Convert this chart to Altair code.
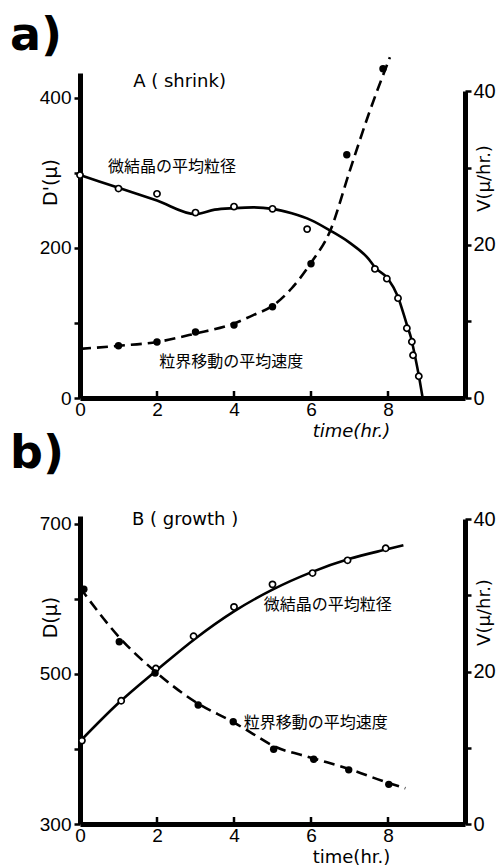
import altair as alt
import pandas as pd

# ---------------- data ----------------
# Panel a) A (shrink): mean crystallite size D' (open circles, solid fit)
a_D_t = [0, 1, 2, 3, 4, 5, 5.9, 7.66, 7.97, 8.26, 8.49, 8.62, 8.65, 8.8]
a_D_v = [297, 279, 272, 247, 255, 252, 225, 172, 159, 133, 93, 75, 57, 29]
a_Dfit_t = [0, 1, 2, 3, 3.5, 4, 4.5, 5, 5.5, 6, 6.5, 7, 7.5, 7.66, 8, 8.25, 8.5, 8.6, 8.7, 8.8, 8.9]
a_Dfit_v = [297, 280, 263, 245, 251, 253, 254, 252, 246, 237, 223, 207, 185, 174, 159, 136, 96, 80, 56, 30, 0]
# mean boundary-migration velocity V (filled dots, dashed fit)
a_V_t = [1, 2, 3, 4, 5, 6, 6.93, 7.87]
a_V_v = [6.8, 7.3, 8.6, 9.5, 11.9, 17.5, 31.7, 42.9]
a_Vfit_t = [0, 1, 2, 3, 4, 4.5, 5, 5.5, 6, 6.5, 7, 7.5, 8.05]
a_Vfit_v = [6.4, 6.8, 7.3, 8.4, 9.7, 10.8, 12, 14.3, 17.6, 21.8, 29.5, 37, 44.4]

# Panel b) B (growth)
b_D_t = [0.05, 1.07, 1.97, 2.95, 4.0, 5.0, 6.04, 6.95, 7.94]
b_D_v = [411, 464, 507, 550, 589, 619, 634, 651, 667]
b_Dfit_t = [0, 1, 2, 3, 4, 5, 6, 7, 8, 8.4]
b_Dfit_v = [410, 461, 505, 547, 583, 612, 635, 653, 666, 671]
b_V_t = [0.1, 1.02, 1.95, 3.07, 3.98, 5.03, 6.07, 6.98, 8.02]
b_V_v = [30.8, 23.9, 19.8, 15.6, 13.4, 9.8, 8.5, 7.1, 5.2]
b_Vfit_t = [0, 1, 2, 3, 4, 4.5, 5, 6, 7, 8, 8.45]
b_Vfit_v = [31.0, 24.6, 19.8, 16.0, 13.3, 11.8, 10.3, 8.7, 7.2, 5.4, 4.7]

x_ticks = [0, 2, 4, 6, 8]
a_D_ticks = [0, 100, 200, 300, 400]
b_D_ticks = [300, 400, 500, 600, 700]
V_ticks = [0, 10, 20, 30, 40]

a_notes_text = ["A ( shrink)", "微結晶の平均粒径", "粒界移動の平均速度"]
a_notes_t = [1.38, 0.73, 2.06]
a_notes_D = [421, 308, 48]
b_notes_text = ["B ( growth )", "微結晶の平均粒径", "粒界移動の平均速度"]
b_notes_t = [1.35, 4.77, 4.25]
b_notes_D = [705, 591, 435]

W = 385
HA = 325
HB = 308
NUM_FONT = "Liberation Sans"


def panel(tag, D_t, D_v, Df_t, Df_v, V_t, V_v, Vf_t, Vf_v,
          D_dom, D_ticks, D_title, D_titleY, V_range, V_titleY,
          notes_text, notes_t, notes_D, H, x_title_style, x_titleY, tag_y):
    xs = alt.X("t:Q", scale=alt.Scale(domain=[0, 10]),
               axis=alt.Axis(values=x_ticks, ticks=False, labelFlush=False,
                             labelFont=NUM_FONT, labelFontSize=19, labelPadding=2,
                             domainWidth=5, title="time(hr.)", titleFont="DejaVu Sans",
                             titleFontSize=18, titleFontWeight="normal",
                             titleFontStyle=x_title_style, titleX=271, titleY=x_titleY,
                             titleBaseline="top", titleAlign="center"))
    yL = alt.Y("D:Q", scale=alt.Scale(domain=D_dom),
               axis=alt.Axis(values=D_ticks, tickSize=6, tickWidth=2.5,
                             labelExpr=f"(datum.value - {D_ticks[0]}) % 200 == 0 ? datum.label : ''",
                             labelFont=NUM_FONT, labelFontSize=19, labelPadding=3,
                             domainWidth=5, title=D_title, titleFont="DejaVu Sans",
                             titleFontSize=19, titleFontWeight="normal", titleAngle=270,
                             titleX=-30, titleY=D_titleY, titleBaseline="middle",
                             titleAlign="center"))
    yR = alt.Y("V:Q", scale=alt.Scale(domain=[0, 40], range=V_range),
               axis=alt.Axis(orient="right", values=V_ticks, tickSize=6, tickWidth=2.5,
                             labelExpr="datum.value % 20 == 0 ? datum.label : ''",
                             labelFont=NUM_FONT, labelFontSize=20, labelPadding=2,
                             domainWidth=5, title="V(μ/hr.)", titleFont="DejaVu Sans",
                             titleFontSize=18, titleFontWeight="normal", titleAngle=270,
                             titleX=19, titleY=V_titleY, titleBaseline="middle",
                             titleAlign="center"))

    dfit = pd.DataFrame({"t": Df_t, "D": Df_v})
    dpts = pd.DataFrame({"t": D_t, "D": D_v})
    vfit = pd.DataFrame({"t": Vf_t, "V": Vf_v})
    vpts = pd.DataFrame({"t": V_t, "V": V_v})
    notes = pd.DataFrame({"t": notes_t, "D": notes_D, "txt": notes_text})
    ticks = pd.DataFrame({"t": x_ticks[1:]})
    tagdf = pd.DataFrame({"txt": [tag]})

    d_line = alt.Chart(dfit).mark_line(color="black", strokeWidth=2.6,
                                       interpolate="monotone").encode(x=xs, y=yL)
    d_pts = alt.Chart(dpts).mark_point(shape="circle", filled=True, fill="white",
                                       stroke="black", strokeWidth=1.7, size=38,
                                       opacity=1).encode(x=xs, y=yL)
    en = notes.iloc[[0]]
    jp = notes.iloc[1:]
    en_txt = alt.Chart(en).mark_text(align="left", baseline="middle", font="DejaVu Sans",
                                     fontSize=18, color="black").encode(x=xs, y=yL, text="txt:N")
    jp_txt = alt.Chart(jp).mark_text(align="left", baseline="middle", font="Noto Sans CJK JP",
                                     fontSize=16, color="black").encode(x=xs, y=yL, text="txt:N")
    in_ticks = alt.Chart(ticks).mark_rule(color="black", strokeWidth=2.5).encode(
        x=xs, y=alt.value(H - 7), y2=alt.value(H))
    tag_txt = alt.Chart(tagdf).mark_text(align="left", baseline="alphabetic",
                                         font="DejaVu Sans", fontWeight="bold",
                                         fontSize=46, color="black").encode(
        x=alt.value(-70), y=alt.value(tag_y), text="txt:N")

    left = alt.layer(d_line, d_pts, en_txt, jp_txt, in_ticks, tag_txt)

    v_line = alt.Chart(vfit).mark_line(color="black", strokeWidth=2.6, strokeDash=[11, 6],
                                       interpolate="monotone").encode(x=xs, y=yR)
    v_pts = alt.Chart(vpts).mark_circle(color="black", size=55, opacity=1).encode(x=xs, y=yR)
    right = alt.layer(v_line, v_pts)

    return alt.layer(left, right).resolve_scale(y="independent").properties(width=W, height=H)


top = panel("a)", a_D_t, a_D_v, a_Dfit_t, a_Dfit_v, a_V_t, a_V_v, a_Vfit_t, a_Vfit_v,
            [0, 433], a_D_ticks, "D'(μ)", 109, [HA, 18], 105,
            a_notes_text, a_notes_t, a_notes_D, HA, "italic", 24, -23)
bottom = panel("b)", b_D_t, b_D_v, b_Dfit_t, b_Dfit_v, b_V_t, b_V_v, b_Vfit_t, b_Vfit_v,
               [300, 710], b_D_ticks, "D(μ)", 101, [HB, 3], 96,
               b_notes_text, b_notes_t, b_notes_D, HB, "normal", 24, -48)

chart = alt.vconcat(top, bottom, spacing=118, bounds="flush").properties(
    padding={"left": 10, "top": 13, "right": 0, "bottom": 0}
).configure_view(stroke=None).configure_axis(
    grid=False, domainColor="black", tickColor="black", labelColor="black", titleColor="black"
)

chart.save("out.html", embed_options={"renderer": "svg", "actions": False})
